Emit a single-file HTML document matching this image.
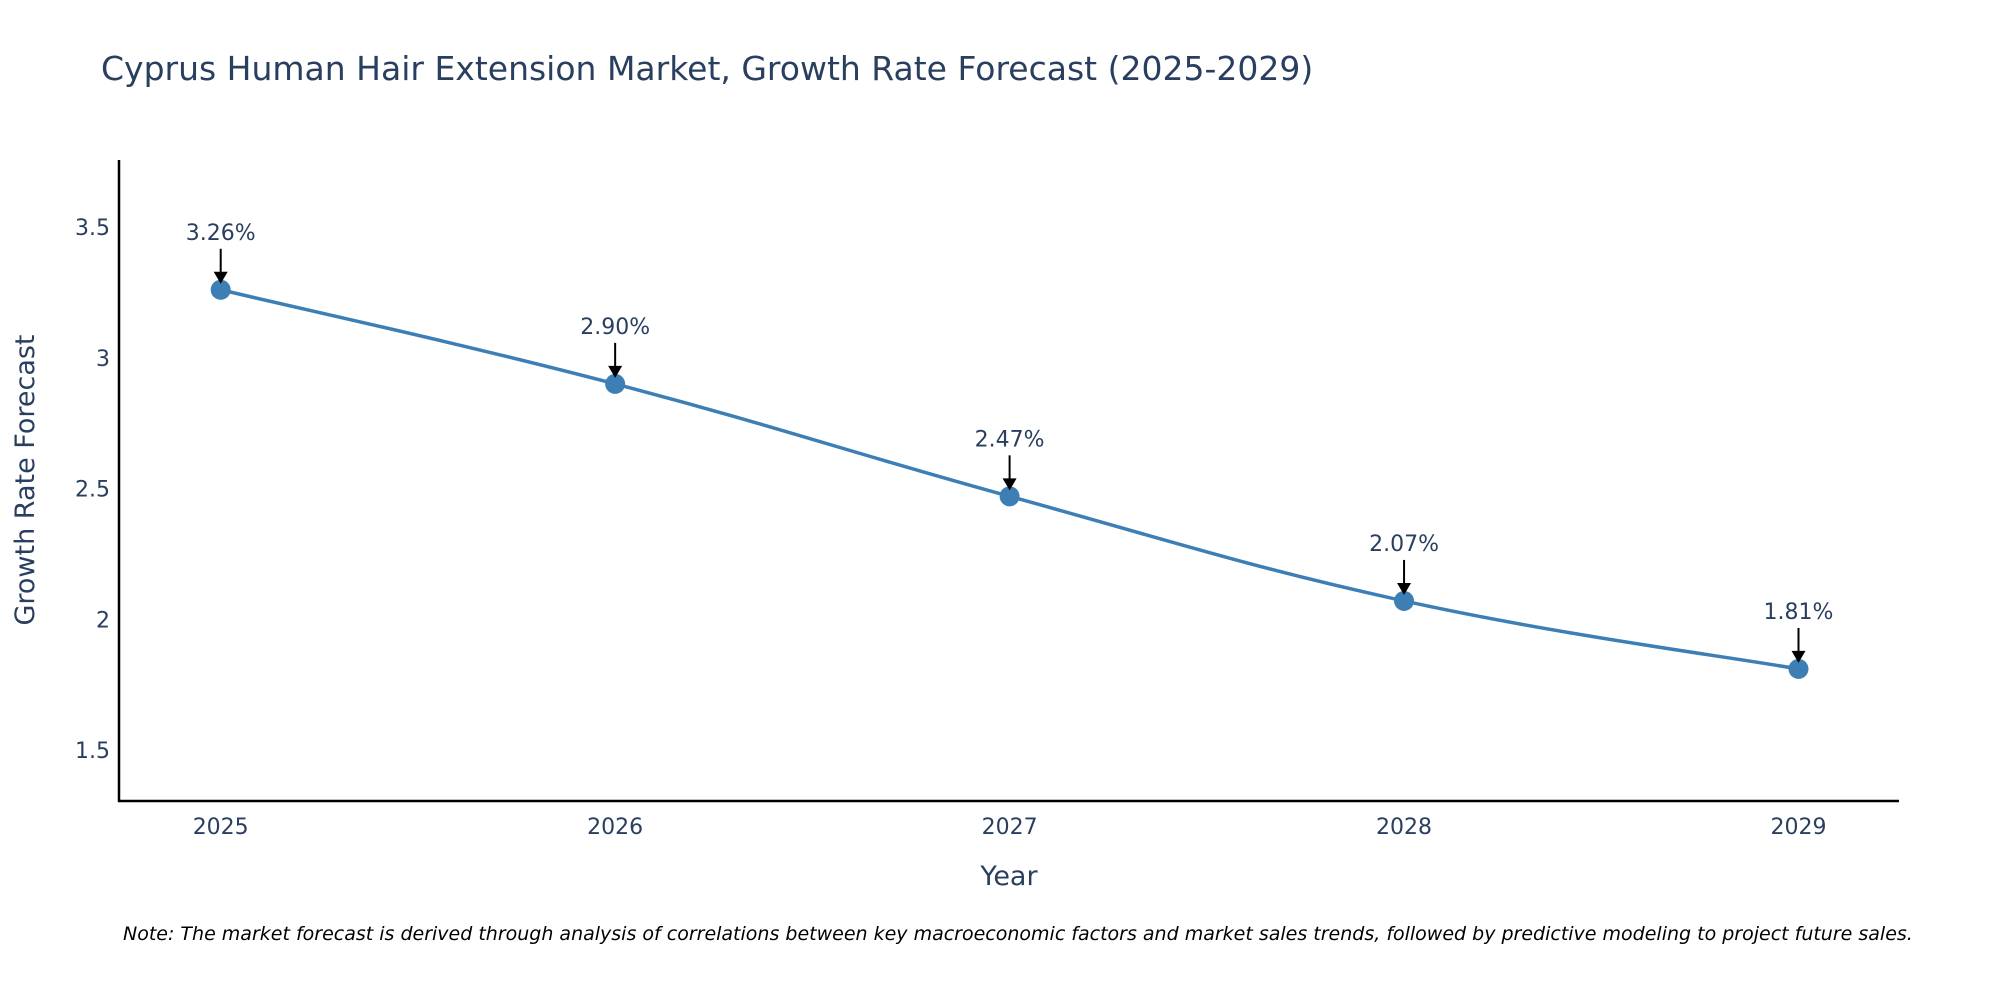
<!DOCTYPE html>
<html><head><meta charset="utf-8"><style>
body{margin:0;background:#fff;font-family:"DejaVu Sans",sans-serif}
</style></head><body>
<svg id="chart" width="2000" height="1000" xmlns="http://www.w3.org/2000/svg" font-family="DejaVu Sans, sans-serif">
<rect width="2000" height="1000" fill="#fff"/>
<text x="101" y="80" font-size="33" fill="#2a3f5f">Cyprus Human Hair Extension Market, Growth Rate Forecast (2025-2029)</text>
<g id="yticks"></g><g id="xticks"></g>
<line x1="119" y1="160" x2="119" y2="802" stroke="#000" stroke-width="2.5"/>
<line x1="118" y1="801" x2="1899" y2="801" stroke="#000" stroke-width="2.5"/>
<path id="line" fill="none" stroke="#3d7fb5" stroke-width="3.5"/>
<g id="points"></g><g id="annots"></g>
<text x="1009" y="885" font-size="27" fill="#2a3f5f" text-anchor="middle">Year</text>
<text transform="translate(34,480) rotate(-90)" font-size="27" fill="#2a3f5f" text-anchor="middle">Growth Rate Forecast</text>
<text x="123" y="940" font-size="19" font-style="italic" fill="#000">Note: The market forecast is derived through analysis of correlations between key macroeconomic factors and market sales trends, followed by predictive modeling to project future sales.</text>
</svg>
<script>
const years=[2025,2026,2027,2028,2029];
const values=[3.26,2.90,2.47,2.07,1.81];
const labels=["3.26%","2.90%","2.47%","2.07%","1.81%"];
const yTicks=[1.5,2,2.5,3,3.5];
const ns="http://www.w3.org/2000/svg";
const X=v=>220.7+(v-2025)*(1798.5-220.7)/4;
const Y=v=>750-(v-1.5)*261.5;
function mk(t,a,p){const e=document.createElementNS(ns,t);for(const k in a)e.setAttribute(k,a[k]);p.appendChild(e);return e;}
const yt=document.getElementById('yticks');
yTicks.forEach(t=>{const e=mk('text',{x:110,y:Y(t)+8,'font-size':22,fill:'#2a3f5f','text-anchor':'end'},yt);


e.textContent=String(t);});
const xt=document.getElementById('xticks');
years.forEach(t=>{const e=mk('text',{x:X(t),y:834,'font-size':22,fill:'#2a3f5f','text-anchor':'middle'},xt);


e.textContent=String(t);});
const pts=years.map((y,i)=>[X(y),Y(values[i])]);
let d=`M${pts[0][0]},${pts[0][1]}`;
for(let i=0;i<pts.length-1;i++){const p0=pts[Math.max(0,i-1)],p1=pts[i],p2=pts[i+1],p3=pts[Math.min(pts.length-1,i+2)];const s=0.2;
d+=` C${p1[0]+(p2[0]-p0[0])*s},${p1[1]+(p2[1]-p0[1])*s} ${p2[0]-(p3[0]-p1[0])*s},${p2[1]-(p3[1]-p1[1])*s} ${p2[0]},${p2[1]}`;}
document.getElementById('line').setAttribute('d',d);
const pg=document.getElementById('points'),ag=document.getElementById('annots');
pts.forEach((p,i)=>{const c=mk('circle',{cx:p[0],cy:p[1],r:10,fill:'#3d7fb5'},pg);


const l=mk('line',{x1:p[0],y1:p[1]-41,x2:p[0],y2:p[1]-14,stroke:'#000','stroke-width':2},ag);


const a=mk('path',{d:`M${p[0]-7},${p[1]-18} L${p[0]+7},${p[1]-18} L${p[0]},${p[1]-6} Z`,fill:'#000'},ag);


const t=mk('text',{x:p[0],y:p[1]-50,'font-size':22,fill:'#2a3f5f','text-anchor':'middle'},ag);


t.textContent=labels[i];});
</script>
</body></html>
